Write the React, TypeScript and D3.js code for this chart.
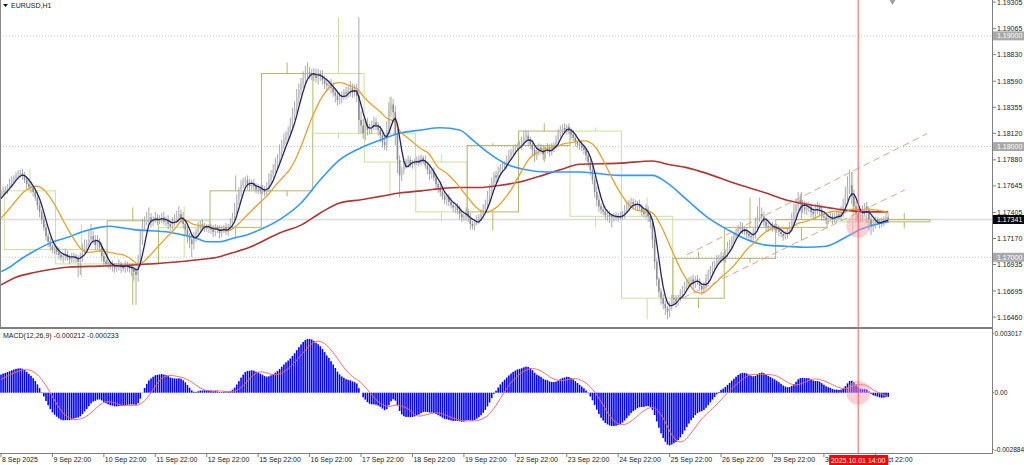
import * as d3 from 'd3';
import React, { useEffect, useRef } from "react";

const symbolTitle = 'EURUSD,H1';
const macdTitle = 'MACD(12,26,9) -0.000212 -0.000233';

// all prices in pips above 1.16000
const basePrice = 1.16;
const warmupPips = [118, 120, 119, 122, 124, 123, 126, 128, 130, 133, 135, 138, 140, 142, 145, 148, 150, 153, 156];

// hourly closes, 8 Sep 22:00 -> 2 Oct 04:00
const closePips = [
    158, 160,
    161, 164, 167, 170, 172, 174, 175, 176, 174, 170, 166, 164, 163, 159, 154, 147, 141, 134, 127, 119, 114, 110, 107, 107,
    105, 102, 100, 101, 103, 100, 98, 100, 101, 99, 96, 100, 107, 110, 112, 116, 119, 116, 111, 114, 109, 101, 96, 94,
    94, 92, 93, 90, 92, 94, 91, 90, 93, 92, 90, 89, 87, 84, 96, 116, 129, 132, 134, 136, 132, 134, 136, 133,
    135, 136, 132, 134, 130, 128, 132, 134, 136, 139, 136, 130, 125, 119, 116, 112, 118, 123, 128, 130, 127, 128, 126, 127,
    125, 123, 127, 125, 122, 125, 127, 124, 127, 130, 136, 143, 152, 159, 165, 168, 170, 166, 164, 167, 164, 161, 163, 160,
    161, 159, 163, 170, 175, 179, 184, 188, 195, 201, 206, 210, 213, 220, 228, 235, 244, 251, 257, 262, 266, 267, 266, 266,
    264, 262, 266, 264, 260, 257, 255, 257, 253, 249, 246, 242, 244, 246, 249, 248, 251, 253, 249, 251, 246, 224, 219, 212,
    220, 215, 217, 220, 222, 219, 215, 210, 204, 201, 215, 233, 238, 231, 211, 188, 174, 179, 183, 186, 188, 184, 186, 186,
    188, 186, 190, 188, 183, 179, 175, 177, 172, 166, 163, 159, 155, 152, 154, 150, 147, 145, 146, 143, 139, 136, 137, 141,
    136, 130, 128, 132, 134, 136, 139, 143, 148, 154, 161, 168, 174, 172, 177, 181, 183, 184, 188, 192, 195, 197, 199, 201,
    201, 204, 208, 210, 206, 202, 197, 192, 195, 199, 197, 193, 197, 199, 195, 199, 201, 206, 211, 215, 217, 215, 218, 214,
    211, 208, 204, 202, 201, 199, 197, 192, 186, 179, 170, 159, 152, 146, 143, 141, 138, 139, 137, 136, 137, 136, 137, 137,
    139, 143, 146, 148, 150, 148, 146, 148, 145, 141, 139, 143, 137, 132, 116, 96, 80, 69, 63, 58, 54, 51, 56, 63,
    62, 60, 63, 67, 71, 74, 76, 78, 80, 76, 80, 78, 74, 71, 74, 80, 85, 89, 92, 94, 98, 99, 101, 99,
    103, 109, 112, 116, 119, 123, 125, 127, 125, 123, 121, 119, 118, 121, 128, 136, 139, 137, 132, 128, 127, 128, 127, 127,
    125, 123, 121, 119, 121, 123, 127, 134, 141, 147, 152, 148, 145, 143, 145, 146, 141, 139, 143, 146, 143, 137, 136, 134,
    136, 137, 134, 136, 139, 137, 141, 147, 156, 163, 165, 155, 146, 139, 136, 138, 143, 146, 143, 134, 128, 130, 134, 132,
    130, 132, 134, 136, 134,
];

const upWick = [
    3, 4,
    3, 2, 4, 3, 2, 3, 4, 3, 4, 3, 2, 3, 4, 2, 3, 5, 3, 2, 4, 3, 3, 4, 2, 3,
    3, 4, 2, 3, 5, 3, 2, 4, 3, 2, 3, 4, 5, 6, 4, 8, 11, 5, 4, 6, 3, 4, 3, 2,
    2, 3, 4, 2, 3, 4, 2, 3, 4, 3, 2, 3, 2, 4, 6, 8, 6, 5, 7, 9, 4, 3, 5, 3,
    3, 4, 5, 3, 4, 3, 4, 5, 6, 7, 4, 5, 3, 4, 3, 4, 5, 3, 4, 3, 4, 3, 2, 3,
    3, 4, 3, 2, 4, 3, 2, 4, 3, 5, 4, 6, 5, 4, 5, 4, 3, 4, 5, 3, 4, 3, 3, 2,
    4, 3, 5, 6, 4, 5, 6, 5, 7, 5, 6, 4, 5, 6, 7, 6, 8, 6, 5, 6, 7, 9, 5, 4,
    5, 6, 4, 3, 5, 4, 5, 3, 4, 5, 3, 4, 5, 4, 3, 5, 4, 6, 4, 5, 6, 71, 8, 6,
    5, 6, 4, 3, 5, 4, 3, 4, 5, 6, 8, 7, 7, 5, 6, 5, 4, 3, 4, 3, 4, 3, 2, 3,
    3, 4, 3, 2, 4, 3, 4, 3, 4, 3, 2, 3, 4, 3, 2, 3, 4, 3, 2, 3, 4, 3, 2, 4,
    3, 4, 3, 2, 4, 3, 4, 5, 4, 6, 5, 4, 3, 4, 5, 3, 4, 3, 4, 5, 3, 4, 3, 2,
    4, 5, 6, 5, 4, 3, 4, 3, 5, 4, 3, 4, 3, 4, 3, 4, 3, 4, 5, 4, 3, 4, 2, 3,
    3, 4, 3, 2, 3, 4, 3, 2, 4, 3, 4, 3, 5, 4, 3, 4, 3, 4, 3, 2, 3, 4, 3, 4,
    3, 4, 5, 4, 4, 3, 4, 3, 4, 3, 4, 5, 3, 4, 3, 4, 3, 2, 3, 4, 3, 2, 4, 3,
    3, 4, 3, 4, 3, 4, 5, 4, 3, 4, 3, 4, 3, 2, 4, 5, 4, 3, 4, 3, 4, 3, 4, 3,
    4, 5, 4, 3, 4, 3, 4, 5, 4, 3, 4, 3, 4, 5, 8, 10, 15, 6, 4, 3, 4, 3, 4, 3,
    3, 4, 3, 4, 3, 4, 5, 6, 7, 6, 7, 5, 4, 6, 5, 4, 3, 4, 5, 4, 3, 4, 3, 2,
    3, 4, 3, 4, 3, 4, 5, 6, 8, 10, 14, 12, 6, 5, 4, 5, 4, 3, 4, 3, 3, 4, 3, 2,
    3, 4, 3, 4, 3,
];

const downWick = [
    3, 2,
    3, 4, 2, 3, 4, 3, 2, 3, 4, 3, 4, 3, 5, 4, 3, 4, 5, 4, 3, 4, 5, 4, 3, 4,
    3, 4, 3, 5, 4, 3, 4, 3, 5, 4, 14, 12, 4, 3, 4, 3, 2, 4, 5, 4, 3, 5, 4, 3,
    4, 3, 5, 4, 3, 4, 5, 3, 4, 5, 4, 6, 8, 27, 6, 4, 5, 4, 3, 4, 5, 4, 3, 4,
    3, 4, 3, 4, 5, 4, 3, 4, 3, 4, 5, 4, 5, 6, 8, 12, 5, 4, 3, 4, 3, 4, 3, 4,
    4, 5, 4, 3, 5, 4, 3, 4, 5, 3, 4, 3, 4, 5, 4, 3, 4, 5, 4, 3, 4, 3, 4, 3,
    3, 4, 3, 4, 3, 4, 3, 4, 5, 4, 3, 4, 5, 4, 3, 4, 5, 6, 5, 4, 5, 4, 5, 6,
    5, 4, 6, 5, 4, 5, 6, 4, 5, 4, 6, 5, 4, 5, 4, 5, 4, 6, 5, 4, 6, 12, 7, 5,
    6, 5, 4, 6, 5, 4, 5, 6, 5, 4, 5, 4, 6, 8, 10, 12, 20, 5, 4, 3, 4, 3, 4, 3,
    3, 4, 3, 4, 3, 4, 5, 4, 3, 4, 5, 4, 3, 4, 5, 4, 3, 4, 5, 4, 5, 4, 3, 4,
    4, 5, 3, 4, 3, 4, 3, 4, 3, 4, 5, 4, 3, 5, 4, 3, 4, 3, 4, 3, 4, 3, 4, 3,
    3, 4, 3, 4, 5, 4, 5, 6, 4, 3, 4, 5, 4, 3, 4, 3, 4, 3, 4, 3, 4, 3, 4, 3,
    4, 3, 4, 3, 4, 3, 4, 5, 4, 5, 4, 5, 6, 5, 4, 3, 4, 5, 6, 9, 4, 3, 4, 3,
    3, 4, 3, 4, 3, 4, 3, 4, 3, 4, 3, 4, 5, 6, 8, 7, 6, 5, 6, 5, 6, 7, 5, 4,
    5, 6, 4, 3, 4, 3, 4, 3, 4, 5, 4, 3, 4, 5, 4, 3, 4, 3, 4, 3, 4, 3, 4, 3,
    4, 3, 4, 5, 4, 3, 4, 3, 4, 3, 4, 3, 4, 3, 4, 5, 4, 3, 4, 5, 4, 3, 4, 3,
    3, 4, 3, 4, 3, 4, 3, 4, 5, 6, 5, 6, 5, 4, 5, 4, 5, 4, 5, 4, 5, 4, 3, 4,
    4, 3, 4, 3, 4, 3, 4, 5, 6, 5, 6, 7, 8, 6, 5, 4, 5, 6, 12, 10, 8, 5, 4, 3,
    4, 3, 4, 3, 3,
];

// slow moving averages: [bar, price]
const blueMA: [number, number][] = [
    [0, 1.1687], [4, 1.1691], [9, 1.1698], [15, 1.1705], [23, 1.1713], [31, 1.1718], [38, 1.1723], [46, 1.1727],
    [51, 1.1728], [55, 1.1727], [62, 1.1725], [70, 1.1724], [77, 1.1723], [85, 1.1720], [90, 1.1718], [96, 1.1714],
    [102, 1.1714], [108, 1.1717], [116, 1.1721], [121, 1.1725], [130, 1.1734], [140, 1.1749], [149, 1.1770],
    [158, 1.1788], [168, 1.1799], [177, 1.1806], [186, 1.1812], [196, 1.1815], [205, 1.1817], [214, 1.1815],
    [220, 1.1806], [227, 1.1795], [236, 1.1784], [245, 1.1779], [255, 1.1777], [270, 1.1777], [289, 1.1774],
    [304, 1.1774], [311, 1.1767], [320, 1.1752], [329, 1.1737], [339, 1.1725], [348, 1.1716], [357, 1.1711],
    [366, 1.1710], [376, 1.1709], [385, 1.1710], [395, 1.1719], [401, 1.1725], [414, 1.1732],
];
const redMA: [number, number][] = [
    [0, 1.1675], [7, 1.1682], [15, 1.1686], [23, 1.1689], [31, 1.1691], [46, 1.1692], [62, 1.1693], [77, 1.1695],
    [93, 1.1698], [101, 1.1700], [108, 1.1704], [116, 1.1709], [130, 1.1722], [140, 1.1729], [149, 1.1740],
    [158, 1.1749], [168, 1.1752], [177, 1.1755], [186, 1.1758], [196, 1.1760], [205, 1.1762], [214, 1.1763],
    [223, 1.1763], [233, 1.1765], [242, 1.1768], [251, 1.1773], [261, 1.1779], [270, 1.1784], [289, 1.1785],
    [304, 1.1787], [311, 1.1784], [320, 1.1781], [329, 1.1776], [342, 1.1767], [357, 1.1758], [366, 1.1752],
    [373, 1.1749], [382, 1.1746], [392, 1.1743], [405, 1.1741], [414, 1.1741],
];

// dashed channel drawn on the chart: [bar, price]
const channelLines: [number, number][][] = [
    [[320, 1.17022], [432, 1.18115]],
    [[313.6, 1.16589], [421.8, 1.17609]],
];

const timeLabels = [
    '8 Sep 2025', '9 Sep 22:00', '10 Sep 22:00', '11 Sep 22:00', '12 Sep 22:00', '15 Sep 22:00',
    '16 Sep 22:00', '17 Sep 22:00', '18 Sep 22:00', '19 Sep 22:00', '22 Sep 22:00', '23 Sep 22:00',
    '24 Sep 22:00', '25 Sep 22:00', '26 Sep 22:00', '29 Sep 22:00', '30 Sep 22:00', '1 Oct 22:00',
];
const priceTicks = [
    1.19305, 1.19065, 1.18830, 1.18590, 1.18355, 1.18120, 1.17880, 1.17645, 1.17405, 1.17170,
    1.16935, 1.16695, 1.16460,
];
const levelLines = [1.19, 1.18, 1.17];
const lastPrice = 1.17341;
const macdTicks: [number, string][] = [[0.003017, '0.003017'], [0, '0.00'], [-0.002884, '-0.002884']];
const cursorBar = 400;
const cursorLabel = '2025.10.01 14:00';
const highlightPrice = 1.17284;
const sessionStart = 2;
const barsPerDay = 24;

const App: React.FC = () => {
    const ref = useRef<SVGSVGElement>(null);

    useEffect(() => {
        if (!ref.current) return;
        const W = 1024, H = 465;
        const axisX = 992, mainBottom = 327, macdTop = 329, macdBottom = 453;
        const font = '"Liberation Sans", Arial, sans-serif';

        const svg = d3.select(ref.current).attr('width', W).attr('height', H);
        svg.selectAll('*').remove();
        svg.append('rect').attr('width', W).attr('height', H).attr('fill', '#fff');

        const toPrice = (p: number) => basePrice + p / 10000;
        const n = closePips.length;
        const opens = closePips.map((c, i) => i === 0 ? warmupPips[warmupPips.length - 1] : closePips[i - 1]);
        const highs = closePips.map((c, i) => Math.max(c, opens[i]) + upWick[i]);
        const lows = closePips.map((c, i) => Math.min(c, opens[i]) - downWick[i]);

        const x = d3.scaleLinear().domain([0, n - 1]).range([1, 1 + (n - 1) * 2.143]);
        const y = d3.scaleLinear().domain([1.1637, 1.19324]).range([mainBottom, 0]);
        const ym = d3.scaleLinear().domain([-0.003062, 0.003235]).range([macdBottom, macdTop]);

        // indicators
        const all = warmupPips.concat(closePips);
        const off = warmupPips.length;
        const sma = (period: number) => closePips.map((_, i) => {
            const end = i + off;
            return d3.mean(all.slice(Math.max(0, end - period + 1), end + 1)) as number;
        });
        const fastMA = sma(5);
        const midMA = sma(20);
        let e12 = all[0], e26 = all[0];
        const macdAll = all.map(v => {
            e12 += (2 / 13) * (v - e12);
            e26 += (2 / 27) * (v - e26);
            return (e12 - e26) / 10000;
        });
        const macd = macdAll.slice(off);
        const signal = macd.map((_, i) => d3.mean(macdAll.slice(Math.max(0, i + off - 8), i + off + 1)) as number);

        const defs = svg.append('defs');
        defs.append('clipPath').attr('id', 'mainClip').append('rect')
            .attr('x', 0).attr('y', 0).attr('width', axisX).attr('height', mainBottom);
        defs.append('clipPath').attr('id', 'macdClip').append('rect')
            .attr('x', 0).attr('y', macdTop).attr('width', axisX).attr('height', macdBottom - macdTop);

        const main = svg.append('g').attr('clip-path', 'url(#mainClip)');

        // round levels
        main.selectAll('.lvl').data(levelLines).enter().append('line')
            .attr('x1', 0).attr('x2', axisX).attr('y1', d => y(d)).attr('y2', d => y(d))
            .attr('stroke', '#c4c4c4').attr('stroke-dasharray', '1,2');
        main.append('line').attr('x1', 0).attr('x2', axisX)
            .attr('y1', y(lastPrice)).attr('y2', y(lastPrice))
            .attr('stroke', '#dcdcdc').attr('stroke-width', 1.5);

        // daily candles
        const days = d3.range(sessionStart, n, barsPerDay).map(s => {
            const e = Math.min(n, s + barsPerDay);
            return {
                s, o: opens[s], c: closePips[e - 1],
                h: d3.max(highs.slice(s, e)) as number, l: d3.min(lows.slice(s, e)) as number,
            };
        });
        const dayG = main.selectAll('.day').data(days).enter().append('g');
        const dayColor = (d: { o: number, c: number }) => d.c >= d.o ? '#b6b66c' : '#c9e29a';
        dayG.append('rect')
            .attr('x', d => x(d.s) - 1).attr('width', d => x(d.s + barsPerDay - 1) - x(d.s) + 2)
            .attr('y', d => y(toPrice(Math.max(d.o, d.c))))
            .attr('height', d => Math.max(1, y(toPrice(Math.min(d.o, d.c))) - y(toPrice(Math.max(d.o, d.c)))))
            .attr('fill', 'none').attr('stroke', dayColor).attr('stroke-width', 1);
        dayG.append('line')
            .attr('x1', d => x(d.s + 11.5)).attr('x2', d => x(d.s + 11.5))
            .attr('y1', d => y(toPrice(d.h))).attr('y2', d => y(toPrice(Math.max(d.o, d.c))))
            .attr('stroke', dayColor);
        dayG.append('line')
            .attr('x1', d => x(d.s + 11.5)).attr('x2', d => x(d.s + 11.5))
            .attr('y1', d => y(toPrice(Math.min(d.o, d.c)))).attr('y2', d => y(toPrice(d.l)))
            .attr('stroke', dayColor);

        // hourly bars
        const idx = d3.range(n);
        main.selectAll('.wick').data(idx).enter().append('line')
            .attr('x1', i => x(i)).attr('x2', i => x(i))
            .attr('y1', i => y(toPrice(highs[i]))).attr('y2', i => y(toPrice(lows[i])))
            .attr('stroke', '#a2a2a2').attr('stroke-width', 0.9);
        main.selectAll('.body').data(idx).enter().append('rect')
            .attr('x', i => x(i) - 0.8).attr('width', 1.6)
            .attr('y', i => y(toPrice(Math.max(opens[i], closePips[i]))))
            .attr('height', i => Math.max(1, y(toPrice(Math.min(opens[i], closePips[i]))) - y(toPrice(Math.max(opens[i], closePips[i])))))
            .attr('fill', i => closePips[i] >= opens[i] ? '#c2c2c2' : '#8e8e8e');

        // moving averages
        const pairLine = d3.line<[number, number]>().x(d => x(d[0])).y(d => y(d[1])).curve(d3.curveMonotoneX);
        main.append('path').attr('d', pairLine(redMA)).attr('fill', 'none').attr('stroke', '#b03535').attr('stroke-width', 1.6);
        main.append('path').attr('d', pairLine(blueMA)).attr('fill', 'none').attr('stroke', '#3399ff').attr('stroke-width', 1.6);
        const maLine = d3.line<number>().x((_, i) => x(i)).y(d => y(toPrice(d)));
        main.append('path').attr('d', maLine(midMA)).attr('fill', 'none').attr('stroke', '#e5a12e').attr('stroke-width', 1.3);
        main.append('path').attr('d', maLine(fastMA)).attr('fill', 'none').attr('stroke', '#23236e').attr('stroke-width', 1.3);

        // channel
        const straight = d3.line<[number, number]>().x(d => x(d[0])).y(d => y(d[1]));
        main.selectAll('.chan').data(channelLines).enter().append('path')
            .attr('d', d => straight(d)).attr('fill', 'none')
            .attr('stroke', '#d8a888').attr('stroke-width', 1).attr('stroke-dasharray', '7,4');

        // highlight circle + top marker
        main.append('circle').attr('cx', x(cursorBar)).attr('cy', y(highlightPrice)).attr('r', 12)
            .attr('fill', 'rgba(250,150,170,0.45)');
        main.append('path').attr('d', d3.symbol(d3.symbolDiamond, 30)())
            .attr('transform', `translate(${x(416)},${0})`).attr('fill', '#a0a0a0');

        // MACD panel
        const macdG = svg.append('g').attr('clip-path', 'url(#macdClip)');
        macdG.selectAll('.hist').data(idx).enter().append('rect')
            .attr('x', i => x(i) - 0.8).attr('width', 1.6)
            .attr('y', i => Math.min(ym(0), ym(macd[i])))
            .attr('height', i => Math.abs(ym(macd[i]) - ym(0)))
            .attr('fill', '#0000ff');
        macdG.append('path')
            .attr('d', d3.line<number>().x((_, i) => x(i)).y(d => ym(d))(signal))
            .attr('fill', 'none').attr('stroke', '#ff6a6a').attr('stroke-width', 1);
        macdG.append('circle').attr('cx', x(cursorBar)).attr('cy', ym(0)).attr('r', 12)
            .attr('fill', 'rgba(250,150,170,0.45)');

        // cursor line
        svg.append('line').attr('x1', x(cursorBar)).attr('x2', x(cursorBar))
            .attr('y1', 0).attr('y2', macdBottom).attr('stroke', '#ff5a5a').attr('stroke-width', 1);

        // frame
        svg.append('line').attr('x1', 0.5).attr('x2', 0.5).attr('y1', 0).attr('y2', mainBottom).attr('stroke', '#8a8a8a');
        svg.append('rect').attr('x', 0).attr('y', mainBottom).attr('width', axisX).attr('height', 2).attr('fill', '#7f7f7f');
        svg.append('line').attr('x1', 0).attr('x2', axisX + 0.5).attr('y1', macdBottom + 0.5).attr('y2', macdBottom + 0.5).attr('stroke', '#7f7f7f');
        svg.append('line').attr('x1', axisX + 0.5).attr('x2', axisX + 0.5).attr('y1', 0).attr('y2', macdBottom + 1).attr('stroke', '#7f7f7f');

        const text = (g: d3.Selection<any, any, any, any>) => g
            .attr('font-family', font).attr('font-size', 7).attr('fill', '#222');

        // price axis
        svg.selectAll('.ptick').data(priceTicks).enter().append('line')
            .attr('x1', axisX).attr('x2', axisX + 4).attr('y1', d => y(d)).attr('y2', d => y(d)).attr('stroke', '#7f7f7f');
        svg.selectAll('.plabel').data(priceTicks).enter().append('text')
            .call(text).attr('x', 997).attr('y', d => y(d) + 2.5).text(d => d.toFixed(5));
        const tag = (p: number, bg: string) => {
            svg.append('rect').attr('x', axisX + 1).attr('y', y(p) - 4.5).attr('width', 31).attr('height', 9).attr('fill', bg);
            svg.append('text').call(text).attr('fill', '#fff').attr('x', 997).attr('y', y(p) + 2.5).text(p.toFixed(5));
        };
        levelLines.forEach(p => tag(p, '#a9a9a9'));
        tag(lastPrice, '#000');

        // MACD axis
        svg.selectAll('.mlabel').data(macdTicks).enter().append('text')
            .call(text).attr('font-size', 6.6).attr('x', 994.5).attr('y', d => ym(d[0]) + 2.5).text(d => d[1]);
        svg.selectAll('.mtick').data(macdTicks).enter().append('line')
            .attr('x1', axisX).attr('x2', axisX + 2).attr('y1', d => ym(d[0])).attr('y2', d => ym(d[0])).attr('stroke', '#7f7f7f');

        // time axis
        const tG = svg.selectAll('.tl').data(timeLabels).enter().append('g')
            .attr('transform', (_, k) => `translate(${x(k * barsPerDay)},0)`);
        tG.append('line').attr('y1', macdBottom).attr('y2', macdBottom + 4).attr('stroke', '#7f7f7f');
        tG.append('text').call(text).attr('x', 1).attr('y', 462).text(d => d);
        svg.append('rect').attr('x', x(cursorBar) - 29).attr('y', 455).attr('width', 59).attr('height', 10).attr('fill', '#ff0000');
        svg.append('text').call(text).attr('fill', '#fff').attr('x', x(cursorBar)).attr('y', 462.5)
            .attr('text-anchor', 'middle').text(cursorLabel);

        // titles
        svg.append('path').attr('d', 'M3,4 L8,4 L5.5,7 Z').attr('fill', '#111');
        svg.append('text').call(text).attr('x', 11).attr('y', 8).text(symbolTitle);
        svg.append('text').call(text).attr('x', 3).attr('y', 338).text(macdTitle);
    }, []);

    return (
        <svg ref={ref} style={{ position: 'absolute', left: 0, top: 0, display: 'block' }}></svg>
    );
}

export default App;
